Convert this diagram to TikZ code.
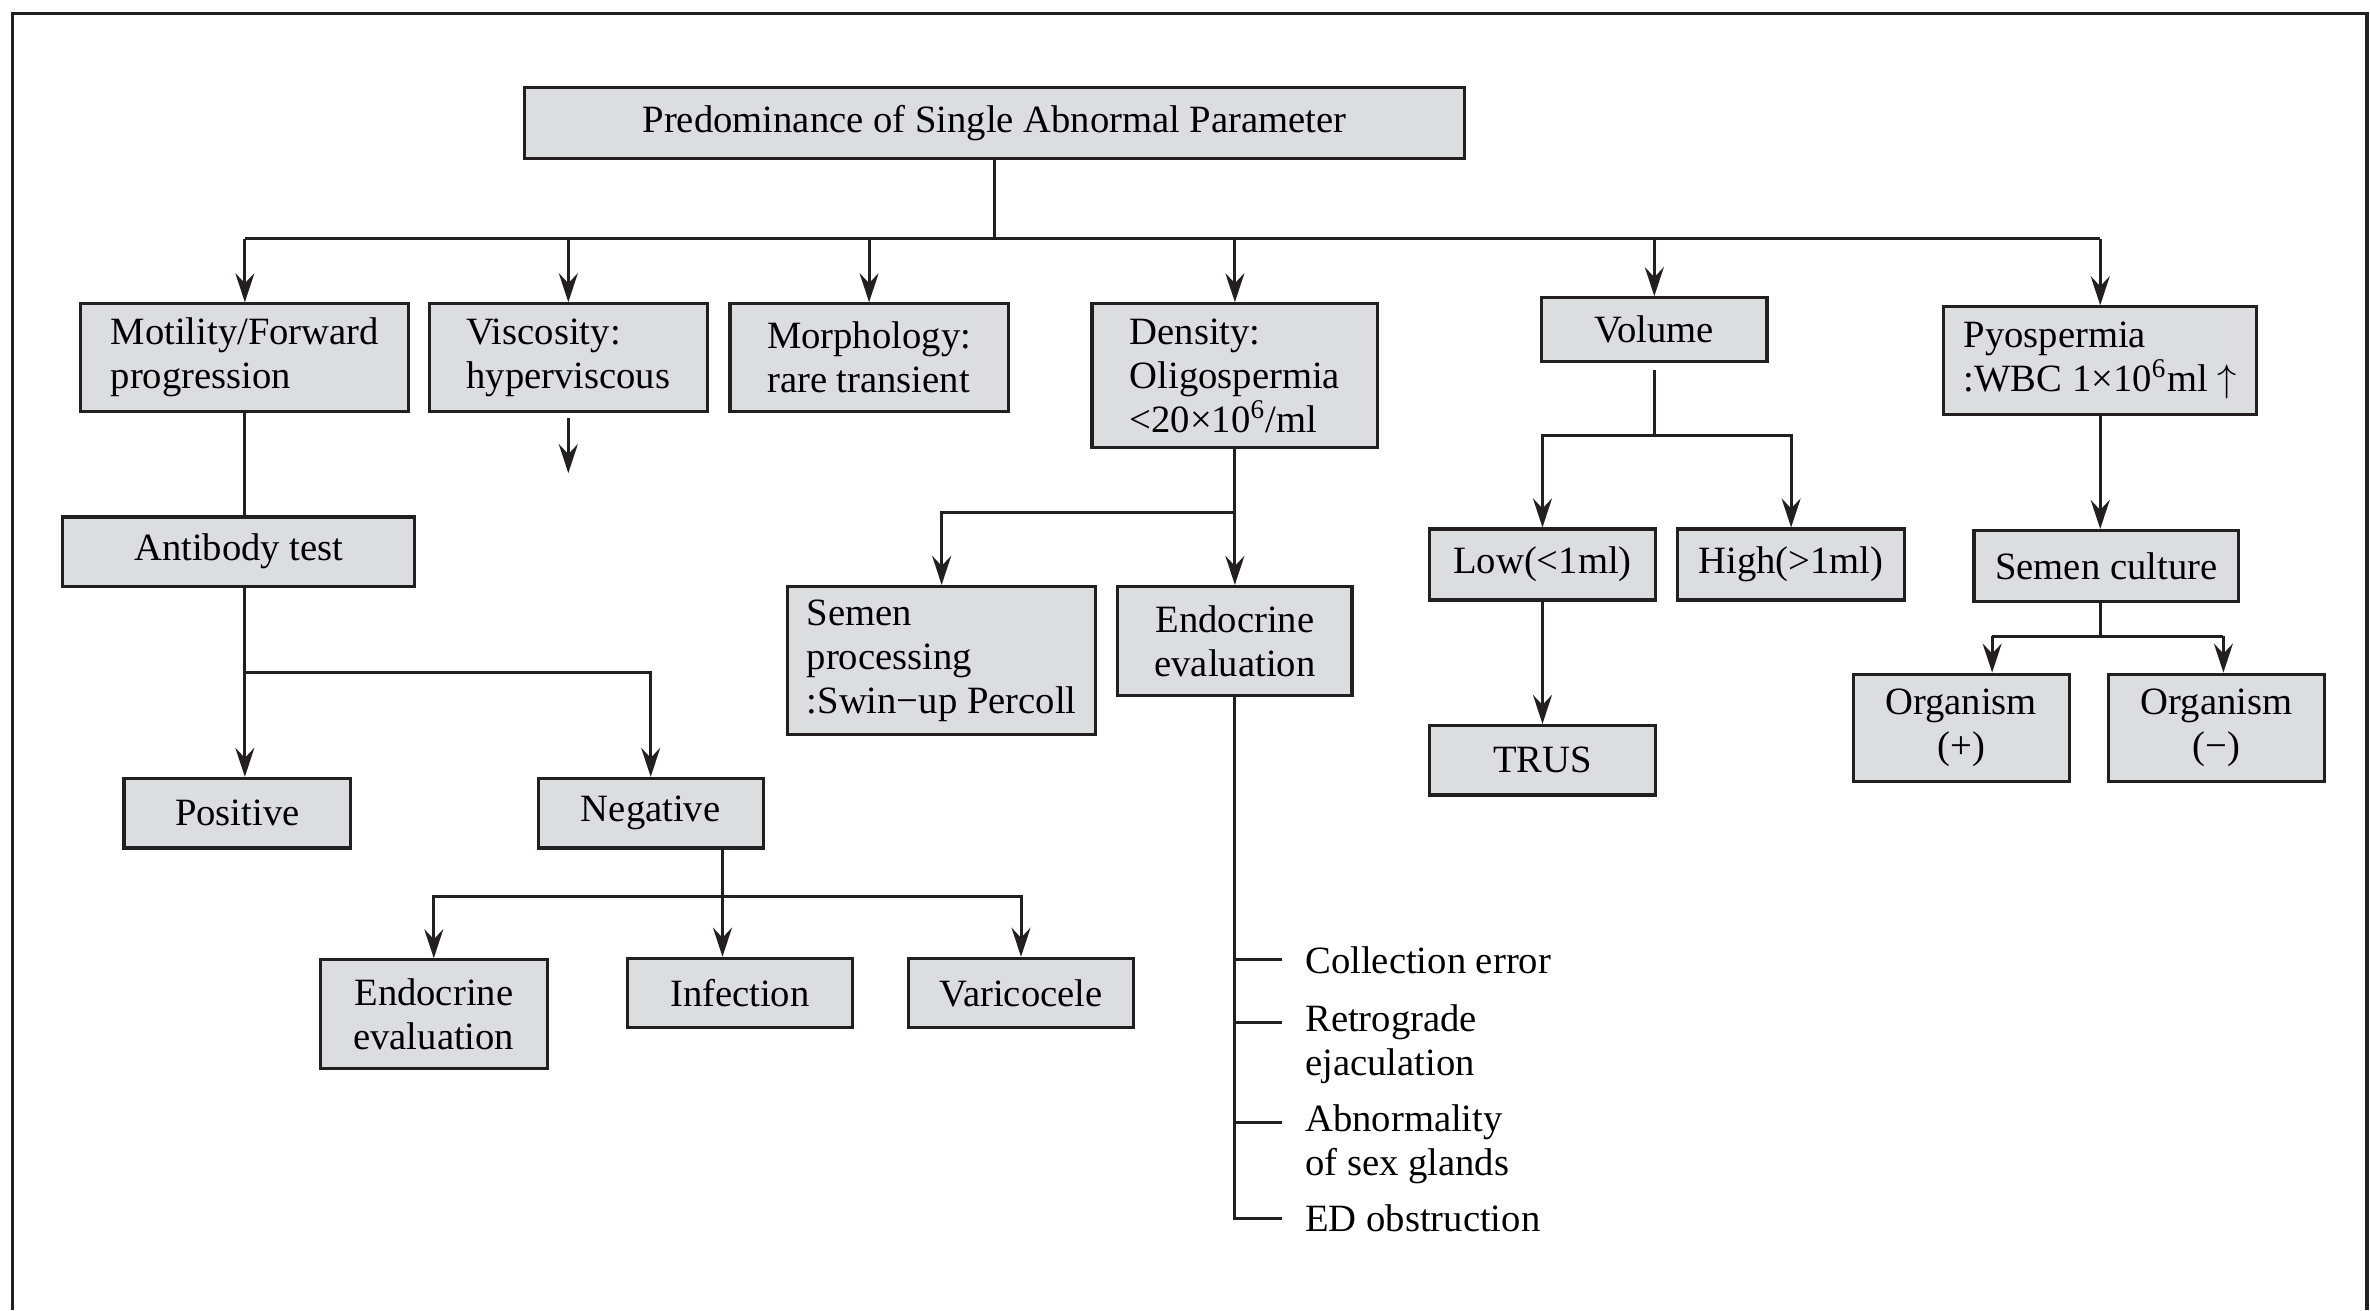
\documentclass[tikz,border=0pt]{standalone}
\usepackage{fontspec}
\setmainfont{Liberation Serif}
\usepackage{tikz}
\usetikzlibrary{arrows.meta, positioning, calc}
\definecolor{boxgray}{RGB}{220, 221, 223}
\definecolor{inkblack}{RGB}{35, 31, 32}
\newcommand{\pxu}{0.015115cm}

\begin{document}
\begin{tikzpicture}[
    x=\pxu, y=-\pxu,
    every node/.style={font=\fontsize{11}{12.5}\selectfont},
    boxsize/.style 2 args={minimum width=#1*\pxu, minimum height=#2*\pxu},
    box/.style={draw=inkblack, fill=boxgray, line width=0.9pt, inner sep=0pt, align=left},
    cbox/.style={box, align=center},
    item/.style={inner xsep=6.5pt, inner ysep=0pt, anchor=west, align=left},
    link/.style={line width=0.85pt, inkblack},
    arrow/.style={-{Stealth[length=2.9mm, width=1.9mm, inset=1mm]}, line width=0.85pt, inkblack}
]
    \useasboundingbox (0,0) rectangle (1568,867);
    \draw[link, line width=0.9pt] (8,867) |- (1566,9) -- (1566,867);

    % Nodes - top
    \node[cbox, boxsize={622}{47}] (predom) at (658,81.5) {Predominance of Single Abnormal Parameter};

    % Nodes - first row
    \node[box, boxsize={217}{71}] (motil) at (162,236.5) {Motility/Forward\\progression};
    \node[box, boxsize={184}{71}] (visc) at (376,236.5) {Viscosity:\\hyperviscous};
    \node[box, boxsize={184}{71}] (morph) at (575,236.5) {Morphology:\\rare transient};
    \node[box, boxsize={189}{95}] (dens) at (817,248.5) {Density:\\Oligospermia\\<20×10\textsuperscript{6}/ml};
    \node[cbox, boxsize={149}{42}] (vol) at (1094.5,218) {Volume};
    \node[box, boxsize={207}{71}] (pyo) at (1389.5,238.5) {Pyospermia\\:WBC 1×10\textsuperscript{6}ml $\uparrow$};

    % Nodes - motility branch
    \node[cbox, boxsize={233}{46}] (anti) at (158,365) {Antibody test};
    \node[cbox, boxsize={150}{46}] (pos) at (157,538) {Positive};
    \node[cbox, boxsize={149}{46}] (neg) at (430.5,538) {Negative};
    \node[cbox, boxsize={150}{72}] (endoA) at (287,671) {Endocrine\\evaluation};
    \node[cbox, boxsize={149}{46}] (infec) at (489.5,657) {Infection};
    \node[cbox, boxsize={149}{46}] (vari) at (675.5,657) {Varicocele};

    % Nodes - density branch
    \node[box, boxsize={204}{98}] (semproc) at (623,437) {Semen\\processing\\:Swin−up Percoll};
    \node[cbox, boxsize={155}{72}] (endoB) at (817,424) {Endocrine\\evaluation};
    \node[item] (coll) at (848,635) {Collection error};
    \node[item] (retro) at (848,691) {Retrograde\\ejaculation};
    \node[item] (abnorm) at (848,757) {Abnormality\\of sex glands};
    \node[item] (edobs) at (848,806) {ED obstruction};

    % Nodes - volume branch
    \node[cbox, boxsize={149}{47}] (low) at (1020.5,373.5) {Low(<1ml)};
    \node[cbox, boxsize={150}{47}] (high) at (1185,373.5) {High(>1ml)};
    \node[cbox, boxsize={149}{46}] (trus) at (1020.5,503) {TRUS};

    % Nodes - pyospermia branch
    \node[cbox, boxsize={175}{47}] (culture) at (1393.5,374.5) {Semen culture};
    \node[cbox, boxsize={143}{71}] (orgpos) at (1297.5,481.5) {Organism\\(+)};
    \node[cbox, boxsize={143}{71}] (orgneg) at (1466.5,481.5) {Organism\\(−)};

    % Fork points
    \coordinate (bus) at (0,158);
    \coordinate (viscend) at (376,313);
    \coordinate (abfork) at (162,445);
    \coordinate (negfork) at (478,593);
    \coordinate (densfork) at (817,339);
    \coordinate (volfork) at (1094.5,288);
    \coordinate (cultL) at (1318,421);
    \coordinate (cultR) at (1471,421);

    % Arrows - first row
    \draw[link] (predom.south) -- (predom.south |- bus);
    \draw[link] (motil.north |- bus) -- (pyo.north |- bus);
    \draw[arrow] (motil.north |- bus) -- (motil.north);
    \draw[arrow] (visc.north |- bus) -- (visc.north);
    \draw[arrow] (morph.north |- bus) -- (morph.north);
    \draw[arrow] (dens.north |- bus) -- (dens.north);
    \draw[arrow] (vol.north |- bus) -- (vol.north);
    \draw[arrow] (pyo.north |- bus) -- (pyo.north);
    \draw[arrow, shorten <=1.5pt] (visc.south) -- (viscend);

    % Arrows - motility branch
    \draw[link] (motil.south) -- (motil.south |- anti.north);
    \draw[arrow] (anti.south -| abfork) -- (abfork) -- (abfork |- pos.north);
    \draw[arrow] (abfork) -| (neg.north);
    \draw[link] (neg.south -| negfork) -- (negfork);
    \draw[arrow] (negfork) -- (negfork |- infec.north);
    \draw[arrow] (negfork) -| (endoA.north);
    \draw[arrow] (negfork) -| (vari.north);

    % Arrows - density branch
    \draw[link] (dens.south) -- (densfork);
    \draw[arrow] (densfork) -- (endoB.north);
    \draw[arrow] (densfork) -| (semproc.north);
    \draw[link] (endoB.south) |- (coll.west);
    \draw[link] (endoB.south) |- ([yshift=6.2pt]retro.west);
    \draw[link] (endoB.south) |- ([yshift=6.2pt]abnorm.west);
    \draw[link] (endoB.south) |- (edobs.west);

    % Arrows - volume branch
    \draw[link, shorten <=2pt] (vol.south) -- (volfork);
    \draw[arrow] (volfork) -| (low.north);
    \draw[arrow] (volfork) -| (high.north);
    \draw[arrow] (low.south) -- (trus.north);

    % Arrows - pyospermia branch
    \draw[arrow] (pyo.south) -- (pyo.south |- culture.north);
    \draw[link] (pyo.south |- culture.south) -- (pyo.south |- cultL);
    \draw[link] (cultL) -- (cultR);
    \draw[arrow] (cultL) -- (cultL |- orgpos.north);
    \draw[arrow] (cultR) -- (cultR |- orgneg.north);
\end{tikzpicture}
\end{document}
